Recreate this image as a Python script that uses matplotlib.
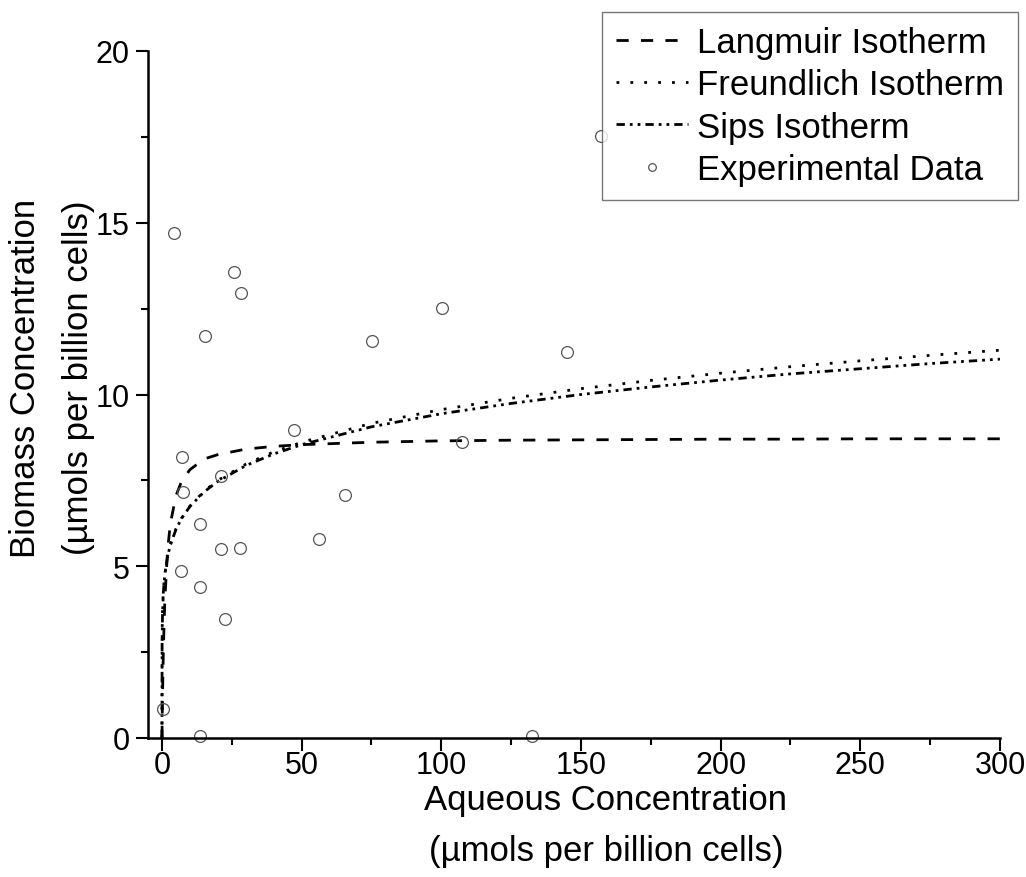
import numpy as np
import matplotlib
matplotlib.use("Agg")
import matplotlib.pyplot as plt
from matplotlib.ticker import MultipleLocator

plt.rcParams['font.family'] = ['Liberation Sans', 'DejaVu Sans']

# experimental points
exp_x = [0.2, 4.3, 7.0, 7.6, 6.9, 15.4, 13.7, 13.6, 13.7, 25.8, 28.4, 21.1,
         21.2, 28.0, 22.6, 47.4, 56.1, 65.5, 75.3, 100.4, 107.4, 132.5, 145.1, 157.2]
exp_y = [0.85, 14.69, 8.17, 7.16, 4.87, 11.69, 6.23, 4.39, 0.06, 13.57, 12.95, 7.62,
         5.51, 5.54, 3.46, 8.97, 5.78, 7.06, 11.55, 12.52, 8.63, 0.06, 11.25, 17.52]

# fitted curves
curve_x = [0, 0.05, 0.2, 0.5, 1, 2, 3, 5, 7, 10, 15, 20, 30, 40, 50, 75, 100,
           125, 150, 175, 200, 225, 250, 275, 300]
langmuir_y = [0, 0.35, 1.25, 2.57, 3.97, 5.46, 6.24, 7.05, 7.47, 7.81, 8.12, 8.25,
              8.41, 8.49, 8.54, 8.61, 8.65, 8.67, 8.68, 8.69, 8.70, 8.70, 8.71, 8.71, 8.71]
freundlich_y = [0, 3.03, 3.74, 4.30, 4.77, 5.30, 5.63, 6.08, 6.40, 6.75, 7.18, 7.50,
                7.97, 8.33, 8.61, 9.16, 9.56, 9.89, 10.17, 10.41, 10.62, 10.81, 10.98,
                11.14, 11.29]
sips_y = [0, 2.8, 3.6, 4.25, 4.75, 5.28, 5.62, 6.07, 6.39, 6.74, 7.16, 7.47, 7.93,
          8.27, 8.54, 9.06, 9.44, 9.74, 10.0, 10.22, 10.42, 10.6, 10.75, 10.9, 11.03]

W, H = 1026, 878
fig = plt.figure(figsize=(W / 100, H / 100), dpi=100)
ax = fig.add_axes([148 / W, 1 - 739 / H, 852 / W, 687 / H])

lw = 2.0
ax.plot(curve_x, langmuir_y, color='black', lw=lw, dashes=(4.4, 4.4), label='Langmuir Isotherm')
ax.plot(curve_x, freundlich_y, color='black', lw=lw, dashes=(1, 4), label='Freundlich Isotherm')
ax.plot(curve_x, sips_y, color='black', lw=lw, dashes=(3, 1.8, 1, 1.8, 1, 1.8), label='Sips Isotherm')
ax.plot(exp_x, exp_y, ls='none', marker='o', ms=8.5, mfc='none', mec='#555555', mew=0.9,
        label='Experimental Data', clip_on=False)

ax.set_xlim(-5, 300)
ax.set_ylim(0, 20)
ax.xaxis.set_major_locator(MultipleLocator(50))
ax.xaxis.set_minor_locator(MultipleLocator(25))
ax.yaxis.set_major_locator(MultipleLocator(5))
ax.yaxis.set_minor_locator(MultipleLocator(2.5))

for s in ['top', 'right']:
    ax.spines[s].set_visible(False)
for s in ['left', 'bottom']:
    ax.spines[s].set_linewidth(1.8)
ax.tick_params(which='major', length=9, width=1.5, labelsize=22)
ax.tick_params(axis='x', which='major', pad=0)
ax.tick_params(axis='y', which='major', pad=4)
ax.tick_params(which='minor', length=5, width=1.5)

# axis titles, placed where they sit in the original
fig.text(606 / W, 1 - 826 / H, 'Aqueous Concentration\n(µmols per billion cells)',
         fontsize=25, linespacing=1.7, ha='center', va='center', multialignment='center')
fig.text(52 / W, 1 - 378 / H, 'Biomass Concentration\n(µmols per billion cells)',
         fontsize=25, linespacing=1.8, rotation=90, ha='center', va='center',
         multialignment='center')

leg = ax.legend(loc='upper right', bbox_to_anchor=(1018 / W, 1 - 13 / H),
                bbox_transform=fig.transFigure, fontsize=25, frameon=True, fancybox=False,
                edgecolor='#555555', handlelength=2.1, handletextpad=0.25, labelspacing=0.27,
                borderpad=0.4, borderaxespad=0, markerscale=0.65)
leg.get_frame().set_linewidth(1.0)

fig.savefig('out.png', dpi=100)
